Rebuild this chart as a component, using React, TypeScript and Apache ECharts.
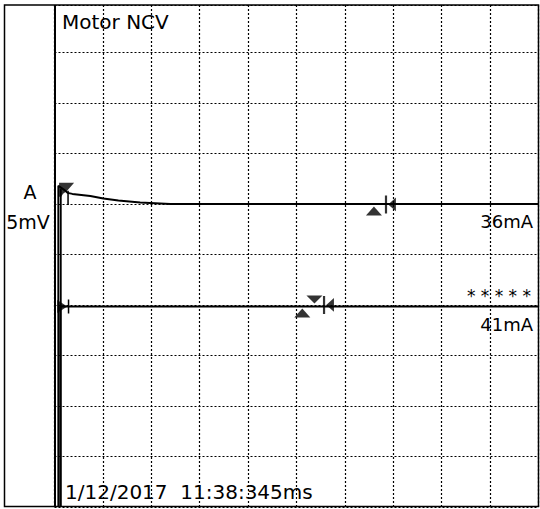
import React, { useEffect, useRef } from "react";
import * as echarts from "echarts";

// Axis extents in grid divisions (x: 10 divisions, y: bottom = 0)
const xMin = 0;
const xMax = 10;
const yMin = 0;
const yMax = 9.94;
const gridInterval = 1;

// Trace 1 (upper response), in divisions
const trace1: [number, number][] = [
  [0.08, 0.02],
  [0.08, 6.36],
  [0.2, 6.28],
  [0.27, 6.22],
  [0.37, 6.2],
  [0.74, 6.16],
  [1.01, 6.11],
  [1.32, 6.07],
  [1.77, 6.03],
  [2.39, 6.0],
  [10, 6.0],
];
// Second stimulus-artifact line beside trace 1
const trace1b: [number, number][] = [
  [0.13, 0.02],
  [0.13, 6.3],
];

// Trace 2 (lower response)
const trace2: [number, number][] = [
  [0.12, 0.02],
  [0.12, 3.97],
  [10, 3.97],
];

// Small latency ticks
const tick1: [number, number][] = [
  [0.28, 5.98],
  [0.28, 6.26],
];
const tick2: [number, number][] = [
  [0.29, 3.83],
  [0.29, 4.11],
];

// Cursor markers [x, y]
const startMarker1: [number, number][] = [[0.25, 6.28]];
const upMarkers: [number, number][] = [
  [6.6, 5.86],
  [5.12, 3.84],
];
const downMarkers: [number, number][] = [[5.37, 4.11]];
const rightMarkers: [number, number][] = [[0.16, 3.97]];
const barLeftMarkers: [number, number][] = [
  [6.94, 5.99],
  [5.66, 4.0],
];

const titleText = "Motor NCV";
const channelText = "A";
const gainText = "5mV";
const stim1Text = "36mA";
const stim2Text = "41mA";
const starsText = "* * * * *";
const dateText = "1/12/2017  11:38:345ms";

const FONT = '"DejaVu Sans", Verdana, sans-serif';

export default function App() {
  const ref = useRef<HTMLDivElement>(null);
  useEffect(() => {
    const chart = echarts.init(ref.current!, null, { renderer: "svg" });
    const lineSeries = (data: [number, number][], width = 2) => ({
      type: "line",
      data,
      showSymbol: false,
      symbol: "none",
      lineStyle: { color: "#000", width },
      z: 5,
    });
    chart.setOption({
      animation: false,
      backgroundColor: "#fff",
      grid: { left: 54.5, right: 1.5, top: 5, bottom: 2, containLabel: false },
      xAxis: {
        type: "value",
        min: xMin,
        max: xMax,
        interval: gridInterval,
        axisLine: { show: false },
        axisTick: { show: false },
        axisLabel: { show: false },
        splitLine: { show: true, lineStyle: { color: "#000", width: 1.2, type: [2, 2] } },
      },
      yAxis: {
        type: "value",
        min: yMin,
        max: yMax,
        interval: gridInterval,
        axisLine: { show: false },
        axisTick: { show: false },
        axisLabel: { show: false },
        splitLine: { show: true, lineStyle: { color: "#000", width: 1.2, type: [2, 2] } },
      },
      series: [
        lineSeries(trace1, 2),
        lineSeries(trace1b, 1.8),
        lineSeries(trace2, 2),
        lineSeries(tick1, 1.5),
        lineSeries(tick2, 1.5),
        {
          type: "scatter",
          data: startMarker1,
          symbol: "path://M0 0 L15 0 L8 8 L4 11 L2 14 L0 14 Z",
          symbolSize: [15, 14],
          itemStyle: { color: "#000" },
          z: 6,
        },
        {
          type: "scatter",
          data: upMarkers,
          symbol: "path://M5 0 L10 5 L0 5 Z",
          symbolSize: [16, 9],
          itemStyle: { color: "#000" },
          z: 6,
        },
        {
          type: "scatter",
          data: downMarkers,
          symbol: "path://M0 0 L10 0 L5 5 Z",
          symbolSize: [16, 8],
          itemStyle: { color: "#000" },
          z: 6,
        },
        {
          type: "scatter",
          data: rightMarkers,
          symbol: "path://M0 0 L10 6.5 L0 13 Z",
          symbolSize: [10, 13],
          itemStyle: { color: "#000" },
          z: 6,
        },
        {
          type: "scatter",
          data: barLeftMarkers,
          symbol: "path://M0 0 H2 V17 H0 Z M3 8.5 L10 2 L10 15 Z",
          symbolSize: [11, 18],
          itemStyle: { color: "#000" },
          z: 6,
        },
      ],
      graphic: [
        {
          type: "rect",
          z: 100,
          shape: { x: 4.5, y: 5, width: 534, height: 501.5 },
          style: { fill: "none", stroke: "#000", lineWidth: 1.5 },
        },
        {
          type: "line",
          z: 100,
          shape: { x1: 55, y1: 5, x2: 55, y2: 507 },
          style: { stroke: "#000", lineWidth: 2 },
        },
        {
          type: "text",
          z: 100,
          x: 62,
          y: 22,
          style: { text: titleText, font: `20px ${FONT}`, fill: "#000", textAlign: "left", textVerticalAlign: "middle" },
        },
        {
          type: "text",
          z: 100,
          x: 30,
          y: 191.5,
          style: { text: channelText, font: `19px ${FONT}`, fill: "#000", textAlign: "center", textVerticalAlign: "middle" },
        },
        {
          type: "text",
          z: 100,
          x: 28,
          y: 222,
          style: { text: gainText, font: `19px ${FONT}`, fill: "#000", textAlign: "center", textVerticalAlign: "middle" },
        },
        {
          type: "text",
          z: 100,
          x: 533,
          y: 221.5,
          style: { text: stim1Text, font: `18px ${FONT}`, fill: "#000", textAlign: "right", textVerticalAlign: "middle" },
        },
        {
          type: "text",
          z: 100,
          x: 531,
          y: 296,
          style: { text: starsText, font: `17px ${FONT}`, fill: "#000", textAlign: "right", textVerticalAlign: "middle" },
        },
        {
          type: "text",
          z: 100,
          x: 533,
          y: 324.5,
          style: { text: stim2Text, font: `18px ${FONT}`, fill: "#000", textAlign: "right", textVerticalAlign: "middle" },
        },
        {
          type: "text",
          z: 100,
          x: 65,
          y: 491.5,
          style: { text: dateText, font: `20px ${FONT}`, fill: "#000", textAlign: "left", textVerticalAlign: "middle" },
        },
      ],
    });
    return () => chart.dispose();
  }, []);
  return <div ref={ref} style={{ position: "fixed", left: 0, top: 0, width: 540, height: 509 }} />;
}
